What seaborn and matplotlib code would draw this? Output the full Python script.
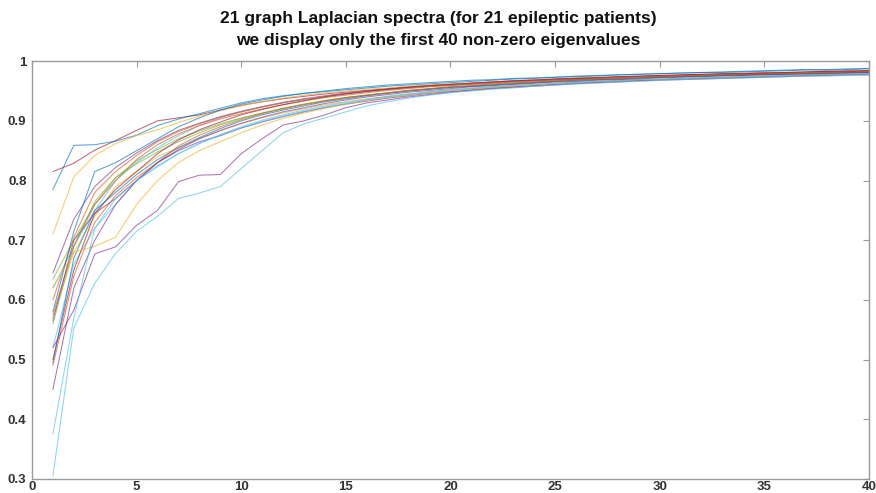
import numpy as np
import pandas as pd
import matplotlib
matplotlib.use("Agg")
import matplotlib.pyplot as plt
import seaborn as sns

# First 40 non-zero normalized Laplacian eigenvalues, one list per patient
p01 = [.815,.829,.851,.867,.884,.900,.905,.910,.918,.926, .932,.937,.941,.945,.948,.951,.954,.957,.959,.961,
       .963,.965,.967,.968,.970,.971,.972,.973,.974,.975, .976,.977,.978,.979,.980,.980,.981,.982,.983,.984]
p02 = [.785,.859,.860,.866,.876,.892,.903,.912,.921,.930, .937,.942,.946,.949,.952,.955,.958,.960,.962,.964,
       .966,.968,.970,.971,.973,.974,.975,.977,.978,.979, .980,.981,.982,.983,.984,.985,.986,.986,.987,.988]
p03 = [.710,.806,.842,.862,.875,.885,.897,.908,.917,.925, .932,.938,.943,.947,.950,.953,.955,.958,.960,.962,
       .963,.965,.966,.968,.969,.970,.972,.973,.974,.975, .976,.977,.977,.978,.979,.980,.981,.981,.982,.983]
p04 = [.645,.735,.790,.822,.846,.867,.884,.896,.907,.916, .924,.931,.937,.942,.946,.950,.953,.956,.958,.960,
       .962,.964,.966,.967,.969,.970,.971,.972,.974,.975, .976,.977,.978,.978,.979,.980,.981,.982,.982,.983]
p05 = [.635,.700,.760,.805,.833,.852,.870,.883,.895,.905, .913,.921,.928,.934,.939,.943,.947,.950,.953,.956,
       .958,.960,.962,.964,.966,.967,.969,.970,.971,.973, .974,.975,.976,.977,.977,.978,.979,.980,.980,.981]
p06 = [.620,.690,.750,.800,.830,.855,.875,.892,.905,.915, .923,.930,.936,.941,.945,.949,.952,.955,.958,.960,
       .962,.964,.966,.967,.969,.970,.971,.973,.974,.975, .976,.977,.978,.979,.979,.980,.981,.982,.983,.983]
p07 = [.600,.705,.780,.815,.842,.865,.882,.895,.906,.915, .923,.930,.936,.941,.946,.950,.953,.956,.959,.961,
       .963,.965,.967,.969,.970,.972,.973,.974,.975,.976, .977,.978,.979,.980,.981,.981,.982,.983,.984,.984]
p08 = [.580,.715,.815,.830,.850,.870,.890,.905,.918,.928, .935,.941,.946,.950,.954,.957,.960,.962,.964,.966,
       .968,.969,.971,.972,.973,.975,.976,.977,.978,.979, .980,.981,.981,.982,.983,.984,.985,.985,.986,.987]
p09 = [.575,.690,.760,.800,.835,.860,.878,.892,.903,.912, .920,.927,.933,.939,.943,.947,.951,.954,.957,.959,
       .961,.963,.965,.967,.968,.970,.971,.972,.973,.974, .975,.976,.977,.978,.979,.980,.980,.981,.982,.983]
p10 = [.570,.680,.740,.790,.815,.840,.855,.870,.883,.895, .905,.913,.920,.927,.932,.937,.941,.945,.948,.951,
       .954,.956,.958,.960,.962,.964,.965,.967,.968,.969, .971,.972,.973,.974,.975,.976,.976,.977,.978,.979]
p11 = [.565,.700,.745,.770,.800,.830,.850,.865,.875,.888, .898,.907,.915,.922,.928,.933,.938,.942,.946,.949,
       .952,.955,.957,.959,.961,.963,.965,.966,.968,.969, .970,.971,.972,.973,.974,.975,.976,.977,.978,.978]
p12 = [.560,.690,.765,.805,.828,.848,.865,.880,.893,.904, .913,.921,.928,.934,.939,.943,.947,.951,.954,.957,
       .959,.961,.963,.965,.967,.968,.970,.971,.972,.973, .974,.975,.976,.977,.978,.979,.980,.980,.981,.982]
p13 = [.520,.660,.720,.760,.800,.825,.845,.862,.877,.890, .901,.910,.918,.925,.931,.936,.941,.945,.949,.952,
       .955,.957,.959,.961,.963,.965,.966,.968,.969,.970, .971,.972,.973,.974,.975,.976,.977,.978,.978,.979]
p14 = [.500,.650,.745,.785,.815,.845,.868,.885,.898,.910, .919,.927,.934,.940,.945,.949,.953,.956,.959,.961,
       .963,.965,.967,.968,.970,.971,.972,.974,.975,.976, .977,.978,.979,.979,.980,.981,.982,.983,.983,.984]
p15 = [.495,.670,.750,.780,.810,.835,.855,.872,.887,.900, .910,.918,.925,.932,.937,.942,.946,.950,.953,.956,
       .958,.960,.962,.964,.966,.968,.969,.970,.972,.973, .974,.975,.976,.977,.978,.978,.979,.980,.981,.981]
p16 = [.490,.640,.730,.775,.805,.830,.858,.876,.890,.902, .912,.920,.927,.933,.939,.943,.947,.951,.954,.957,
       .959,.962,.964,.965,.967,.969,.970,.971,.972,.974, .975,.976,.977,.977,.978,.979,.980,.981,.981,.982]
p17 = [.620,.680,.690,.705,.760,.800,.830,.850,.865,.880, .893,.904,.913,.921,.928,.934,.939,.943,.947,.950,
       .953,.955,.958,.960,.962,.963,.965,.966,.968,.969, .970,.971,.972,.973,.974,.975,.976,.977,.977,.978]
p18 = [.520,.583,.677,.689,.725,.750,.798,.809,.810,.845, .870,.893,.900,.910,.922,.930,.935,.940,.944,.948,
       .951,.954,.956,.958,.960,.962,.964,.965,.967,.968, .969,.970,.971,.972,.973,.974,.975,.976,.977,.977]
p19 = [.450,.620,.700,.760,.800,.830,.852,.870,.884,.896, .906,.915,.922,.929,.935,.940,.944,.948,.951,.954,
       .957,.959,.961,.963,.965,.966,.968,.969,.970,.972, .973,.974,.975,.976,.977,.978,.978,.979,.980,.981]
p20 = [.375,.570,.720,.770,.800,.823,.845,.862,.876,.888, .899,.908,.916,.923,.929,.935,.940,.944,.948,.951,
       .954,.957,.959,.961,.963,.964,.966,.967,.969,.970, .971,.972,.973,.974,.975,.976,.977,.977,.978,.979]
p21 = [.305,.553,.628,.678,.715,.740,.770,.779,.790,.820, .850,.880,.895,.905,.915,.925,.932,.938,.943,.947,
       .950,.953,.955,.958,.960,.962,.963,.965,.966,.968, .969,.970,.971,.972,.973,.974,.975,.975,.976,.977]

spectra = [p01, p02, p03, p04, p05, p06, p07, p08, p09, p10, p11,
           p12, p13, p14, p15, p16, p17, p18, p19, p20, p21]
patients = [f"patient {i + 1}" for i in range(len(spectra))]
eig_index = list(range(1, 41))

x_ticks = [0, 5, 10, 15, 20, 25, 30, 35, 40]
y_ticks = [0.3, 0.4, 0.5, 0.6, 0.7, 0.8, 0.9, 1.0]
y_tick_labels = ["0.3", "0.4", "0.5", "0.6", "0.7", "0.8", "0.9", "1"]
title_lines = ["21 graph Laplacian spectra (for 21 epileptic patients)",
               "we display only the first 40 non-zero eigenvalues"]

# MATLAB-style colour order, one entry per patient
BLUE, ORANGE, YELLOW, PURPLE = "#0072BD", "#D95319", "#EDB120", "#7E2F8E"
GREEN, CYAN, RED = "#77AC30", "#4DBEEE", "#A2142F"
patient_colors = [RED, BLUE, YELLOW, PURPLE, GREEN, CYAN, ORANGE,
                  BLUE, ORANGE, YELLOW, PURPLE, GREEN, CYAN, RED,
                  BLUE, ORANGE, YELLOW, PURPLE, PURPLE, CYAN, CYAN]

df = pd.DataFrame({
    "patient": np.repeat(patients, len(eig_index)),
    "k": np.tile(eig_index, len(spectra)),
    "eigenvalue": np.concatenate([np.asarray(s) for s in spectra]),
})

sns.set_style("white")
plt.rcParams["font.family"] = ["Liberation Sans", "DejaVu Sans"]

fig = plt.figure(figsize=(8.76, 4.93), dpi=100)
ax = fig.add_axes([0.0365, 0.0284, 0.9555, 0.8476])

sns.lineplot(data=df, x="k", y="eigenvalue", hue="patient",
             palette=patient_colors, linewidth=0.75, alpha=0.65,
             legend=False, ax=ax, estimator=None)

ax.set_xlim(0, 40)
ax.set_ylim(0.3, 1.0)
ax.set_xticks(x_ticks)
ax.set_xticklabels([str(t) for t in x_ticks])
ax.set_yticks(y_ticks)
ax.set_yticklabels(y_tick_labels)
ax.set_xlabel("")
ax.set_ylabel("")

for side in ["top", "right", "bottom", "left"]:
    ax.spines[side].set_visible(True)
    ax.spines[side].set_color("#9a9a9a")
    ax.spines[side].set_linewidth(1.0)

ax.tick_params(axis="both", direction="in", length=4.5, width=0.8,
               color="#9a9a9a", labelsize=9.5, labelcolor="#333333",
               top=True, right=True)
ax.tick_params(axis="x", pad=1.5)
ax.tick_params(axis="y", pad=4)
for lab in ax.get_xticklabels() + ax.get_yticklabels():
    lab.set_fontweight("bold")

# Two-line bold title above the axes
fig.text(0.5, 1 - 18 / 493, title_lines[0], ha="center", va="center",
         fontsize=12.5, fontweight="bold", color="#111111")
fig.text(0.5, 1 - 41 / 493, title_lines[1], ha="center", va="center",
         fontsize=12.5, fontweight="bold", color="#111111")

fig.savefig("out.png", dpi=100)
